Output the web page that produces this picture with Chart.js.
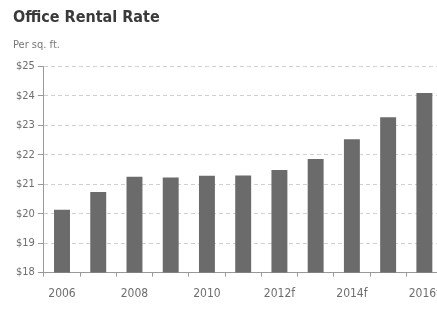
<!DOCTYPE html>
<html>
<head>
<meta charset="utf-8">
<script src="https://cdn.jsdelivr.net/npm/chart.js@4"></script>
<style>
  html, body { margin: 0; padding: 0; background: #fff; overflow: hidden; }
  #wrap { position: relative; width: 450px; height: 311px; }
</style>
</head>
<body>
<div id="wrap"><canvas id="chart"></canvas></div>
<script>
// Office rental rate, $ per sq. ft.
const years = ['2006', '2007', '2008', '2009', '2010', '2011', '2012f', '2013f', '2014f', '2015f', '2016f']
const rates = [20.13, 20.74, 21.25, 21.23, 21.29, 21.30, 21.48, 21.86, 22.53, 23.27, 24.10]
const yTicks = [18, 19, 20, 21, 22, 23, 24, 25]

const FONT = "'DejaVu Sans Condensed', 'Liberation Sans Narrow', sans-serif"
const ctx = document.getElementById('chart').getContext('2d')

new Chart(ctx, {
    type: 'bar',
    data: {
        labels: years,
        datasets: [{
            data: rates,
            backgroundColor: '#6b6b6b',
            borderWidth: 0,
            barPercentage: 0.44,
            categoryPercentage: 1
        }]
    },
    options: {
        responsive: true,
        maintainAspectRatio: false,
        animation: false,
        layout: { padding: { left: 13, right: 0, top: 8, bottom: 0 } },
        plugins: {
            legend: { display: false },
            tooltip: { enabled: false },
            title: {
                display: true,
                text: 'Office Rental Rate',
                align: 'start',
                color: '#3a3a3a',
                font: { family: FONT, size: 16, weight: 'bold' },
                padding: { top: 0, bottom: 11 }
            },
            subtitle: {
                display: true,
                text: 'Per sq. ft.',
                align: 'start',
                color: '#777',
                font: { family: FONT, size: 11 },
                padding: { top: 0, bottom: 15 }
            }
        },
        scales: {
            x: {
                offset: true,
                grid: {
                    offset: true,
                    drawOnChartArea: false,
                    drawTicks: true,
                    tickLength: 4,
                    tickColor: '#999'
                },
                border: { color: '#999', width: 1 },
                ticks: {
                    autoSkip: false,
                    maxRotation: 0,
                    color: '#6e6e6e',
                    padding: 10,
                    font: { family: FONT, size: 12 },
                    callback: (v, i) => (i % 2 === 0 ? years[i] : '')
                }
            },
            y: {
                min: 18,
                max: 25,
                afterBuildTicks: axis => { axis.ticks = yTicks.map(v => ({ value: v })) },
                grid: {
                    color: '#d0d0d0',
                    tickColor: '#999',
                    tickLength: 6,
                    drawTicks: true
                },
                border: { color: '#999', width: 1, dash: [4, 3] },
                ticks: {
                    color: '#6e6e6e',
                    padding: 3,
                    font: { family: FONT, size: 11 },
                    callback: v => '$' + v
                }
            }
        }
    }
})
</script>
</body>
</html>
